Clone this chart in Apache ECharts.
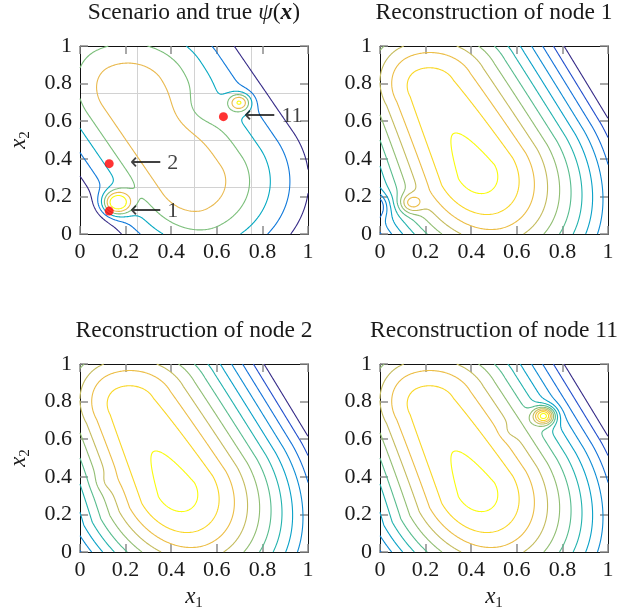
<!DOCTYPE html>
<html>
<head>
<meta charset="utf-8">
<script src="https://cdn.jsdelivr.net/npm/echarts@6/dist/echarts.min.js"></script>
<style>
html,body{margin:0;padding:0;background:#ffffff;}
#chart{width:641px;height:611px;}
</style>
</head>
<body>
<div id="chart"></div>
<script>
// ---------------- data ----------------
const tickValues = [0, 0.2, 0.4, 0.6, 0.8, 1];
const quarterGridValues = [0.25, 0.5, 0.75];
const panelTitles = ['Scenario and true ', 'Reconstruction of node 1', 'Reconstruction of node 2', 'Reconstruction of node 11'];
const nodeNames = ['1', '2', '11'];
const nodeX1 = [0.128, 0.128, 0.629];
const nodeX2 = [0.122, 0.374, 0.624];

// ridge model of psi: [Ax, Ay, Bx, By, core0, coreSlope, leftScale0, leftScaleSlope, endScaleA, endScaleB]
const ridgeTrue  = [0.47, 0.28, 0.21, 0.74, 0.20, 0.0, 1.35, 0.0, 1.0, 1.0];
const ridgeRecon = [0.42, 0.33, 0.215, 0.77, 0.286, 0.03, 1.08, 0.2, 0.75, 1.03];
// local bumps: [cx, cy, amplitude, width]
const bumpsTrue   = [[0.16, 0.165, 0.40, 0.045], [0.70, 0.70, 0.28, 0.034], [0.52, 0.66, -0.05, 0.08]];
const bumpsNode1  = [[0.135, 0.163, 0.10, 0.035], [-0.03, 0.15, -0.12, 0.045]];
const bumpsNode2  = [[0.11, 0.37, 0.015, 0.035]];
const bumpsNode11 = [[0.72, 0.725, 0.25, 0.033], [0.57, 0.64, -0.015, 0.03]];
// contour levels
const levelsTrue  = [-0.570, -0.493, -0.416, -0.339, -0.262, -0.185];
const levelsRecon = [-0.707, -0.670, -0.633, -0.596, -0.559, -0.522, -0.485, -0.448, -0.411, -0.374, -0.337, -0.300];

// ---------------- field + contouring ----------------
function ridgeValue(r, x, y) {
  const ax = r[0], ay = r[1], bx = r[2], by = r[3];
  let ux = bx - ax, uy = by - ay;
  const L = Math.hypot(ux, uy); ux /= L; uy /= L;
  const nx = uy, ny = -ux;
  const dx = x - ax, dy = y - ay;
  const s = dx * ux + dy * uy, p = dx * nx + dy * ny;
  const t = Math.min(Math.max(s / L, 0), 1);
  let out = 0;
  if (s < 0) out = -s * r[8]; else if (s > L) out = (s - L) * r[9];
  const core = r[4] + r[5] * t;
  const ps = p < 0 ? p * (r[6] + r[7] * t) : p;
  return -Math.sqrt(core * core + ps * ps + out * out);
}
function fieldValue(ridge, bumps, x, y) {
  let v = ridgeValue(ridge, x, y);
  for (const b of bumps) {
    const dx = x - b[0], dy = y - b[1];
    v += b[2] * Math.exp(-(dx * dx + dy * dy) / (2 * b[3] * b[3]));
  }
  return v;
}
const N = 220, W = N + 1;
function sampleField(ridge, bumps) {
  const g = new Float64Array(W * W);
  for (let j = 0; j <= N; j++) for (let i = 0; i <= N; i++) g[j * W + i] = fieldValue(ridge, bumps, i / N, j / N);
  return g;
}
const CASES = {1:[[3,0]],2:[[0,1]],3:[[3,1]],4:[[1,2]],6:[[0,2]],7:[[3,2]],8:[[2,3]],9:[[0,2]],11:[[1,2]],12:[[1,3]],13:[[0,1]],14:[[3,0]]};
function contourLines(g, L) {
  const VOFF = W * W;
  const segs = [];
  function edge(k, i, j) {
    let id, pt, a, b, t;
    if (k === 0 || k === 2) {
      const jj = k === 0 ? j : j + 1;
      a = g[jj * W + i]; b = g[jj * W + i + 1]; t = (L - a) / (b - a);
      id = jj * W + i; pt = [(i + t) / N, jj / N];
    } else {
      const ii = k === 1 ? i + 1 : i;
      a = g[j * W + ii]; b = g[(j + 1) * W + ii]; t = (L - a) / (b - a);
      id = VOFF + j * W + ii; pt = [ii / N, (j + t) / N];
    }
    return [id, pt];
  }
  for (let j = 0; j < N; j++) {
    for (let i = 0; i < N; i++) {
      const v0 = g[j * W + i], v1 = g[j * W + i + 1], v2 = g[(j + 1) * W + i + 1], v3 = g[(j + 1) * W + i];
      const c = (v0 > L ? 1 : 0) | (v1 > L ? 2 : 0) | (v2 > L ? 4 : 0) | (v3 > L ? 8 : 0);
      if (c === 0 || c === 15) continue;
      let pairs;
      if (c === 5 || c === 10) {
        const hi = (v0 + v1 + v2 + v3) / 4 > L;
        if (c === 5) pairs = hi ? [[0,1],[2,3]] : [[3,0],[1,2]];
        else pairs = hi ? [[3,0],[1,2]] : [[0,1],[2,3]];
      } else pairs = CASES[c];
      for (const pr of pairs) {
        const A = edge(pr[0], i, j), B = edge(pr[1], i, j);
        segs.push({a: A[0], pa: A[1], b: B[0], pb: B[1]});
      }
    }
  }
  const adj = new Map();
  segs.forEach((s, k) => {
    if (!adj.has(s.a)) adj.set(s.a, []); adj.get(s.a).push(k);
    if (!adj.has(s.b)) adj.set(s.b, []); adj.get(s.b).push(k);
  });
  const used = new Uint8Array(segs.length);
  const lines = [];
  function extend(startId, acc) {
    let cur = startId;
    while (true) {
      const lst = adj.get(cur) || [];
      let nxt = -1;
      for (const m of lst) if (!used[m]) { nxt = m; break; }
      if (nxt < 0) break;
      used[nxt] = 1;
      const s = segs[nxt];
      if (s.a === cur) { acc.push(s.pb); cur = s.b; } else { acc.push(s.pa); cur = s.a; }
    }
  }
  for (let k = 0; k < segs.length; k++) {
    if (used[k]) continue;
    used[k] = 1;
    const s = segs[k];
    const fwd = [s.pa, s.pb];
    extend(s.b, fwd);
    const back = [];
    extend(s.a, back);
    lines.push(back.reverse().concat(fwd));
  }
  return lines;
}

// ---------------- styling helpers ----------------
const parulaStops = ['#352a87','#2053d4','#1079da','#0c93d2','#07a9c2','#38b99e','#7cbf7b','#b7bd64','#e9b94e','#f9d329','#f9fb0e'];
function hexRGB(h) { return [parseInt(h.substr(1,2),16), parseInt(h.substr(3,2),16), parseInt(h.substr(5,2),16)]; }
function parula(t) {
  t = Math.max(0, Math.min(1, t));
  const f = t * 10, i = Math.min(9, Math.floor(f)), u = f - i;
  const a = hexRGB(parulaStops[i]), b = hexRGB(parulaStops[i + 1]);
  return 'rgb(' + [0,1,2].map(k => Math.round(a[k] + (b[k] - a[k]) * u)).join(',') + ')';
}
const SERIF = "'Liberation Serif','Times New Roman',serif";
const FS = 22, TFS = 23.5;
const tickFmt = v => String(Math.round(v * 10) / 10);

const panels = [
  {ridge: ridgeTrue,  bumps: bumpsTrue,   levels: levelsTrue,  left: 80,  top: 46},
  {ridge: ridgeRecon, bumps: bumpsNode1,  levels: levelsRecon, left: 380, top: 46},
  {ridge: ridgeRecon, bumps: bumpsNode2,  levels: levelsRecon, left: 80,  top: 364},
  {ridge: ridgeRecon, bumps: bumpsNode11, levels: levelsRecon, left: 380, top: 364}
];
const PW = 228, PH = 188;

const grid = [], xAxis = [], yAxis = [], series = [];
const axisLineStyle = {show: true, onZero: false, lineStyle: {color: '#111', width: 1}};
const tickStyle = {show: true, inside: true, length: 8, lineStyle: {color: '#8c8c8c', width: 1.5}};
panels.forEach((p, gi) => {
  grid.push({left: p.left, top: p.top, width: PW, height: PH});
  const xi = xAxis.length, yi = yAxis.length;
  xAxis.push({gridIndex: gi, type: 'value', min: tickValues[0], max: tickValues[tickValues.length - 1], interval: tickValues[1] - tickValues[0], position: 'bottom',
    axisLine: axisLineStyle, axisTick: tickStyle, splitLine: {show: false},
    axisLabel: {show: true, margin: 7, fontFamily: SERIF, fontSize: FS, color: '#1a1a1a', formatter: tickFmt}});
  xAxis.push({gridIndex: gi, type: 'value', min: 0, max: 1, interval: 0.2, position: 'top',
    axisLine: axisLineStyle, axisTick: tickStyle, splitLine: {show: false}, axisLabel: {show: false}});
  yAxis.push({gridIndex: gi, type: 'value', min: tickValues[0], max: tickValues[tickValues.length - 1], interval: tickValues[1] - tickValues[0], position: 'left',
    axisLine: axisLineStyle, axisTick: tickStyle, splitLine: {show: false},
    axisLabel: {show: true, margin: 8, fontFamily: SERIF, fontSize: FS, color: '#1a1a1a', formatter: tickFmt}});
  yAxis.push({gridIndex: gi, type: 'value', min: 0, max: 1, interval: 0.2, position: 'right',
    axisLine: axisLineStyle, axisTick: tickStyle, splitLine: {show: false}, axisLabel: {show: false}});
  if (gi === 0) {
    const q = quarterGridValues[0];
    xAxis.push({gridIndex: 0, type: 'value', min: 0, max: 1, interval: q, position: 'bottom',
      axisLine: {show: false}, axisTick: {show: false}, axisLabel: {show: false},
      splitLine: {show: true, lineStyle: {color: '#d2d2d2', width: 1}}});
    yAxis.push({gridIndex: 0, type: 'value', min: 0, max: 1, interval: q, position: 'left',
      axisLine: {show: false}, axisTick: {show: false}, axisLabel: {show: false},
      splitLine: {show: true, lineStyle: {color: '#d2d2d2', width: 1}}});
  }
  const g = sampleField(p.ridge, p.bumps);
  const lmin = Math.min(...p.levels), lmax = Math.max(...p.levels);
  p.levels.forEach(L => {
    const lines = contourLines(g, L);
    series.push({
      type: 'lines', coordinateSystem: 'cartesian2d', xAxisIndex: xi, yAxisIndex: yi,
      polyline: true, silent: true, z: 3, animation: false,
      lineStyle: {color: parula((L - lmin) / (lmax - lmin)), width: 1.1, opacity: 1},
      data: lines.map(c => ({coords: c}))
    });
  });
  if (gi === 0) {
    series.push({
      type: 'scatter', xAxisIndex: xi, yAxisIndex: yi, z: 5, animation: false, silent: true,
      symbol: 'circle', symbolSize: 9, itemStyle: {color: '#ff0000'},
      data: nodeNames.map((n, k) => ({value: [nodeX1[k], nodeX2[k]], name: n})),
      label: {show: true, position: 'right', distance: 16, fontFamily: SERIF, fontSize: FS, color: '#111',
        formatter: d => '\u27F5 ' + d.name}
    });
  }
});

const titleRich = {
  r: {fontFamily: SERIF, fontSize: TFS, fill: '#1a1a1a'},
  i: {fontFamily: SERIF, fontSize: TFS, fontStyle: 'italic', fill: '#1a1a1a'},
  b: {fontFamily: SERIF, fontSize: TFS, fontStyle: 'italic', fontWeight: 'bold', fill: '#1a1a1a'},
  xi: {fontFamily: SERIF, fontSize: FS + 1, fontStyle: 'italic', fill: '#1a1a1a'},
  s: {fontFamily: SERIF, fontSize: 15, fill: '#1a1a1a', padding: [12, 0, 0, 0]}
};
const graphic = [];
panels.forEach((p, gi) => {
  const txt = gi === 0 ? '{r|' + panelTitles[0] + '}{i|\u03c8}{r|(}{b|x}{r|)}' : '{r|' + panelTitles[gi] + '}';
  graphic.push({type: 'text', x: p.left + PW / 2, y: p.top - 33, style: {text: txt, rich: titleRich, align: 'center', verticalAlign: 'middle', textAlign: 'center', textVerticalAlign: 'middle'}});
});
[46, 364].forEach(t => {
  graphic.push({type: 'text', x: 19, y: t + PH / 2, rotation: Math.PI / 2,
    style: {text: '{xi|x}{s|2}', rich: titleRich, align: 'center', verticalAlign: 'middle', textAlign: 'center', textVerticalAlign: 'middle'}});
});
[80, 380].forEach(l => {
  graphic.push({type: 'text', x: l + PW / 2, y: 597,
    style: {text: '{xi|x}{s|1}', rich: titleRich, align: 'center', verticalAlign: 'middle', textAlign: 'center', textVerticalAlign: 'middle'}});
});

const chart = echarts.init(document.getElementById('chart'), null, {renderer: 'canvas'});
chart.setOption({animation: false, backgroundColor: '#ffffff', grid, xAxis, yAxis, series, graphic});
</script>
</body>
</html>
